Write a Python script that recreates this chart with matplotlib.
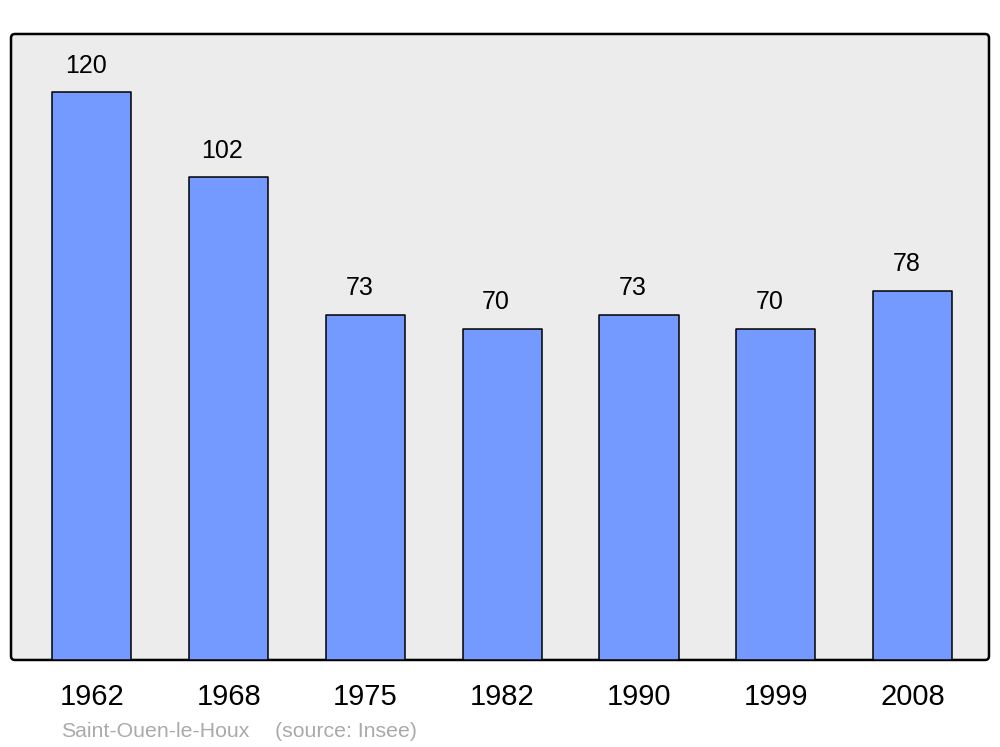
import matplotlib
matplotlib.use("Agg")
import matplotlib.pyplot as plt
from matplotlib.patches import FancyBboxPatch

plt.rcParams['font.family'] = ['Liberation Sans', 'DejaVu Sans']

years = ["1962", "1968", "1975", "1982", "1990", "1999", "2008"]
population = [120, 102, 73, 70, 73, 70, 78]
commune = "Saint-Ouen-le-Houx"
source = "(source: Insee)"

fig = plt.figure(figsize=(10, 7.47), dpi=100)
fig.patch.set_facecolor("white")

ax_rect = [0.011, 0.1165, 0.978, 0.838]
frame = FancyBboxPatch((ax_rect[0], ax_rect[1]), ax_rect[2], ax_rect[3],
                       boxstyle="round,pad=0,rounding_size=0.004",
                       mutation_aspect=1000 / 747,
                       transform=fig.transFigure, facecolor="#ECECEC",
                       edgecolor="black", linewidth=1.8, zorder=-5)
fig.patches.append(frame)

ax = fig.add_axes(ax_rect)
ax.set_zorder(1)
ax.set_facecolor("none")
for s in ax.spines.values():
    s.set_visible(False)

x = list(range(len(years)))
bars = ax.bar(x, population, width=0.578, color="#7499FF",
              edgecolor="black", linewidth=1.1, zorder=2)
for b in bars:
    b.set_joinstyle("round")

for xi, v in zip(x, population):
    ax.annotate(str(v), (xi, v), xytext=(-4.5, 14), textcoords="offset points",
                ha="center", va="baseline", fontsize=18, color="black")

ax.set_xlim(-0.592, 6.559)
ax.set_ylim(0, 132.3)
ax.set_yticks([])
ax.set_xticks(x)
ax.set_xticklabels(years, fontsize=21)
ax.tick_params(axis="x", length=0, pad=16.3)

fig.text(0.061, 0.0134, commune, fontsize=15.3, color="#AAAAAA",
         ha="left", va="baseline")
fig.text(0.275, 0.0134, source, fontsize=15.3, color="#AAAAAA",
         ha="left", va="baseline")

fig.savefig("out.png", dpi=100)
